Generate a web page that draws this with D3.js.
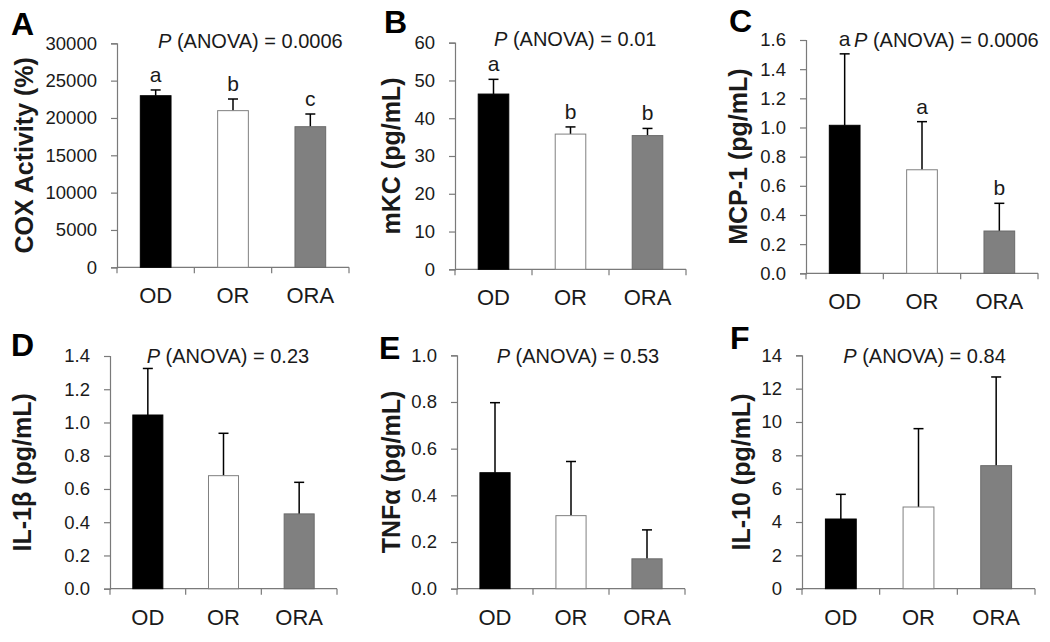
<!DOCTYPE html>
<html>
<head>
<meta charset="utf-8">
<script src="https://cdn.jsdelivr.net/npm/d3@7"></script>
<style>
  html, body { margin: 0; padding: 0; background: #fff; }
  svg { display: block; }
  text { font-family: "Liberation Sans", Arial, Helvetica, sans-serif; }
</style>
</head>
<body>
<svg id="chart" width="1050" height="642"></svg>
<script>
// ---------------- data ----------------
const categories = ["OD", "OR", "ORA"];
const panelIds = ["A", "B", "C", "D", "E", "F"];
const yTitles = ["COX Activity (%)", "mKC (pg/mL)", "MCP-1 (pg/mL)", "IL-1β (pg/mL)", "TNFα (pg/mL)", "IL-10 (pg/mL)"];
const pValues = ["0.0006", "0.01", "0.0006", "0.23", "0.53", "0.84"];
const yMaxes = [30000, 60, 1.6, 1.4, 1.0, 14];
const yTickSteps = [5000, 10, 0.2, 0.2, 0.2, 2];
const yTickFormats = ["d", "d", ".1f", ".1f", ".1f", "d"];

const meansA = [22980, 20980, 18830];
const errA   = [770, 1560, 1700];
const meansB = [46.4, 35.8, 35.4];
const errB   = [3.9, 1.9, 1.9];
const meansC = [1.015, 0.71, 0.29];
const errC   = [0.49, 0.33, 0.19];
const meansD = [1.045, 0.68, 0.45];
const errD   = [0.28, 0.255, 0.19];
const meansE = [0.497, 0.313, 0.128];
const errE   = [0.30, 0.232, 0.124];
const meansF = [4.18, 4.9, 7.38];
const errF   = [1.48, 4.7, 5.32];

const lettersA = ["a", "b", "c"];
const lettersB = ["a", "b", "b"];
const lettersC = ["a", "a", "b"];
const lettersNone = ["", "", ""];

const allMeans = [meansA, meansB, meansC, meansD, meansE, meansF];
const allErrs = [errA, errB, errC, errD, errE, errF];
const allLetters = [lettersA, lettersB, lettersC, lettersNone, lettersNone, lettersNone];

// ---------------- layout (positions only) ----------------
const layout = [
  {left:117, right:349, y0:267.3, top:43.3, titleX:26,  letterX:11,  letterY:35,  pX:158,   pY:48},
  {left:455, right:686, y0:269.3, top:42.7, titleX:393, letterX:384, letterY:33,  pX:494,   pY:45.7},
  {left:806, right:1038,y0:273.3, top:40,   titleX:740, letterX:729, letterY:32,  pX:854,   pY:46.7},
  {left:110, right:337, y0:588.7, top:356,  titleX:24,  letterX:11,  letterY:356, pX:146.7, pY:362.7},
  {left:457, right:685, y0:588.7, top:355.3,titleX:393, letterX:379, letterY:359, pX:496.7, pY:362.7},
  {left:802, right:1035,y0:588.7, top:355.3,titleX:743, letterX:730, letterY:349, pX:843.3, pY:362.7}
];

const fills = ["#000000", "#ffffff", "#808080"];
const strokes = ["#000000", "#808080", "#6a6a6a"];
const axisColor = "#7a7a7a";
const textColor = "#1a1a1a";

const svg = d3.select("#chart");

panelIds.forEach((pid, i) => {
  const L = layout[i];
  const g = svg.append("g");
  const means = allMeans[i], errs = allErrs[i], letters = allLetters[i];

  const x = d3.scaleBand().domain(categories).range([L.left, L.right])
    .paddingInner(0.59).paddingOuter(0.295);
  const y = d3.scaleLinear().domain([0, yMaxes[i]]).range([L.y0, L.top]);

  const ticks = d3.range(0, yMaxes[i] + yTickSteps[i] / 2, yTickSteps[i]);
  const yAxis = d3.axisLeft(y).tickValues(ticks).tickFormat(d3.format(yTickFormats[i]))
    .tickSizeOuter(0).tickSize(6).tickPadding(14);
  const ya = g.append("g").attr("transform", `translate(${L.left},0)`).call(yAxis);
  ya.select(".domain").attr("stroke", axisColor).attr("stroke-width", 1.2);
  ya.selectAll(".tick line").attr("stroke", axisColor).attr("stroke-width", 1.2);
  ya.selectAll(".tick text").attr("fill", textColor)
    .style("font-size", "18.5px").style("font-family", "'Liberation Sans', Arial, sans-serif");

  // x axis
  g.append("line").attr("x1", L.left).attr("x2", L.right).attr("y1", L.y0).attr("y2", L.y0)
    .attr("stroke", axisColor).attr("stroke-width", 1.2);
  const step = x.step();
  const boundaries = d3.range(categories.length + 1).map(k => L.left + k * step);
  g.selectAll(".xt").data(boundaries).join("line")
    .attr("x1", d => d).attr("x2", d => d).attr("y1", L.y0).attr("y2", L.y0 + 6)
    .attr("stroke", axisColor).attr("stroke-width", 1.2);
  g.selectAll(".xl").data(categories).join("text")
    .attr("x", d => x(d) + x.bandwidth() / 2).attr("y", L.y0 + 36)
    .attr("text-anchor", "middle").attr("fill", textColor)
    .style("font-size", "22px").text(d => d);

  // error bars
  const rows = categories.map((c, k) => ({c, m: means[k], e: errs[k], k, lt: letters[k]}));
  g.selectAll(".eb").data(rows).join("line")
    .attr("x1", d => x(d.c) + x.bandwidth() / 2).attr("x2", d => x(d.c) + x.bandwidth() / 2)
    .attr("y1", d => y(d.m)).attr("y2", d => y(d.m + d.e))
    .attr("stroke", "#000").attr("stroke-width", 1.5);
  g.selectAll(".ec").data(rows).join("line")
    .attr("x1", d => x(d.c) + x.bandwidth() / 2 - 5).attr("x2", d => x(d.c) + x.bandwidth() / 2 + 5)
    .attr("y1", d => y(d.m + d.e)).attr("y2", d => y(d.m + d.e))
    .attr("stroke", "#000").attr("stroke-width", 1.5);

  // bars
  g.selectAll(".bar").data(rows).join("rect")
    .attr("x", d => x(d.c) + 0.5).attr("width", x.bandwidth() - 1)
    .attr("y", d => y(d.m)).attr("height", d => y(0) - y(d.m))
    .attr("fill", d => fills[d.k]).attr("stroke", d => strokes[d.k]).attr("stroke-width", 1);

  // significance letters
  g.selectAll(".lt").data(rows.filter(d => d.lt)).join("text")
    .attr("x", d => x(d.c) + x.bandwidth() / 2).attr("y", d => y(d.m + d.e) - 8)
    .attr("text-anchor", "middle").attr("fill", textColor)
    .style("font-size", "21px").text(d => d.lt);

  // P text
  const pt = g.append("text").attr("x", L.pX).attr("y", L.pY).attr("fill", textColor)
    .style("font-size", "20px");
  pt.append("tspan").style("font-style", "italic").text("P");
  pt.append("tspan").text(" (ANOVA) = " + pValues[i]);

  // y title
  g.append("text")
    .attr("transform", `translate(${L.titleX},${(L.y0 + L.top) / 2}) rotate(-90)`)
    .attr("dy", "0.26em").attr("text-anchor", "middle").attr("fill", textColor)
    .style("font-size", "25px").style("font-weight", "bold").text(yTitles[i]);

  // panel letter
  g.append("text").attr("x", L.letterX).attr("y", L.letterY).attr("fill", "#000")
    .style("font-size", "32px").style("font-weight", "bold").text(pid);
});
</script>
</body>
</html>
